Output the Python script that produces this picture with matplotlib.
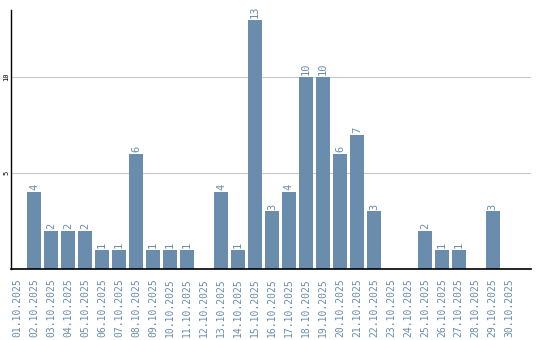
import matplotlib
matplotlib.use('Agg')
import matplotlib.pyplot as plt

# Daten
dates = ['01.10.2025', '02.10.2025', '03.10.2025', '04.10.2025', '05.10.2025',
         '06.10.2025', '07.10.2025', '08.10.2025', '09.10.2025', '10.10.2025',
         '11.10.2025', '12.10.2025', '13.10.2025', '14.10.2025', '15.10.2025',
         '16.10.2025', '17.10.2025', '18.10.2025', '19.10.2025', '20.10.2025',
         '21.10.2025', '22.10.2025', '23.10.2025', '24.10.2025', '25.10.2025',
         '26.10.2025', '27.10.2025', '28.10.2025', '29.10.2025', '30.10.2025']
counts = [0, 4, 2, 2, 2, 1, 1, 6, 1, 1,
          1, 0, 4, 1, 13, 3, 4, 10, 10, 6,
          7, 3, 0, 0, 2, 1, 1, 0, 3, 0]
y_ticks = [5, 10]

bar_color = '#6a8cad'

fig = plt.figure(figsize=(5.4, 3.4), dpi=100)
ax = fig.add_axes([11 / 540, 71 / 340, 520 / 540, 259 / 340])

x = list(range(len(dates)))
ax.bar(x, counts, width=14 / 17, color=bar_color, zorder=2)

# Werte über den Balken
for xi, c in zip(x, counts):
    if c > 0:
        ax.text(xi, c + 0.1, str(c), rotation=90, ha='center', va='bottom',
                color=bar_color, fontsize=7.5, family='DejaVu Sans Mono')

ax.set_xlim(-0.36, 30.25)
ax.set_ylim(0, 13.5)

ax.set_xticks(x)
ax.set_xticklabels(dates, rotation=90, color=bar_color, fontsize=7,
                   family='DejaVu Sans Mono')
ax.set_yticks(y_ticks)
ax.set_yticklabels([str(t) for t in y_ticks], rotation=90, fontsize=5,
                   family='DejaVu Sans Mono', va='center')
ax.tick_params(axis='both', length=0)
ax.tick_params(axis='x', pad=7)
ax.tick_params(axis='y', pad=1)

ax.grid(axis='y', color='#c8c8c8', linewidth=0.8, zorder=1)
ax.set_axisbelow(True)

for s in ['top', 'right']:
    ax.spines[s].set_visible(False)
ax.spines['left'].set_linewidth(1.0)
ax.spines['bottom'].set_linewidth(1.2)

fig.savefig('out.png', dpi=100)
